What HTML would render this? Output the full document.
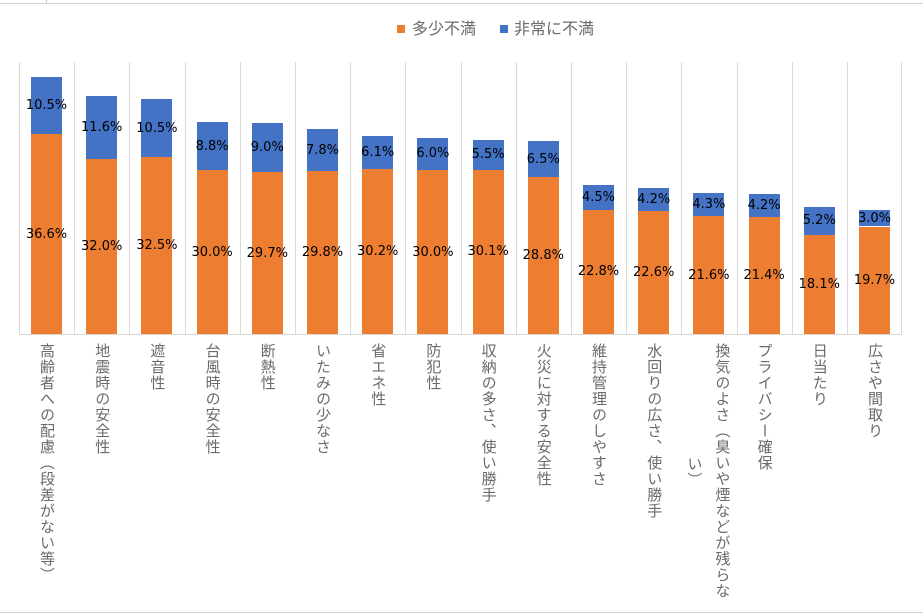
<!DOCTYPE html>
<html><head><meta charset="utf-8"><style>
*{margin:0;padding:0;box-sizing:border-box}
body{width:923px;height:615px;background:#fff;position:relative;overflow:hidden;font-family:"Liberation Sans","Noto Sans CJK JP",sans-serif}
.g{position:absolute;top:62px;height:273px;width:1px;background:#d9d9d9}
.c{position:absolute;top:0;width:55px;height:615px}
.s{position:absolute;left:12px;width:31px;display:flex;align-items:center;justify-content:center;font-family:"DejaVu Sans",sans-serif;font-size:13px;color:#000;white-space:nowrap}
.o{background:#ED7D31}.b{background:#4472C4}
.l{position:absolute;top:343px;writing-mode:vertical-rl;font-family:"Noto Sans CJK JP",sans-serif;font-size:15px;letter-spacing:1px;color:#6a6a6a;line-height:18px;white-space:nowrap}
</style></head><body>
<div style="position:absolute;left:0;top:3px;width:923px;height:1px;background:#d0d0d0"></div>
<div style="position:absolute;left:46px;top:0;width:1px;height:3px;background:#d0d0d0"></div>
<div style="position:absolute;left:0;top:612px;width:923px;height:1px;background:#d0d0d0"></div>
<div style="position:absolute;left:397px;top:25px;width:8px;height:8px;background:#ED7D31"></div>
<div style="position:absolute;left:412px;top:17px;font-size:16px;color:#6a6a6a;font-family:'Noto Sans CJK JP',sans-serif;line-height:20px">多少不満</div>
<div style="position:absolute;left:500px;top:25px;width:8px;height:8px;background:#4472C4"></div>
<div style="position:absolute;left:514px;top:17px;font-size:16px;color:#6a6a6a;font-family:'Noto Sans CJK JP',sans-serif;line-height:20px">非常に不満</div>
<div style="position:absolute;left:19px;top:334px;width:882px;height:1px;background:#d9d9d9"></div>
<div class="g" style="left:19px"></div><div class="g" style="left:74px"></div><div class="g" style="left:129px"></div><div class="g" style="left:185px"></div><div class="g" style="left:240px"></div><div class="g" style="left:295px"></div><div class="g" style="left:350px"></div><div class="g" style="left:405px"></div><div class="g" style="left:461px"></div><div class="g" style="left:516px"></div><div class="g" style="left:571px"></div><div class="g" style="left:626px"></div><div class="g" style="left:681px"></div><div class="g" style="left:737px"></div><div class="g" style="left:792px"></div><div class="g" style="left:847px"></div><div class="g" style="left:901px"></div>

<div class="c" style="left:19px"><div class="s b" style="top:77px;height:57.3px">10.5%</div><div class="s o" style="top:134.3px;height:199.7px">36.6%</div><div class="l" style="left:19px">高齢者への配慮（段差がない等）</div></div>
<div class="c" style="left:74.2px"><div class="s b" style="top:96.1px;height:63.3px">11.6%</div><div class="s o" style="top:159.4px;height:174.6px">32.0%</div><div class="l" style="left:19px">地震時の安全性</div></div>
<div class="c" style="left:129.4px"><div class="s b" style="top:99.4px;height:57.3px">10.5%</div><div class="s o" style="top:156.7px;height:177.3px">32.5%</div><div class="l" style="left:19px">遮音性</div></div>
<div class="c" style="left:184.6px"><div class="s b" style="top:122.3px;height:48px">8.8%</div><div class="s o" style="top:170.3px;height:163.7px">30.0%</div><div class="l" style="left:19px">台風時の安全性</div></div>
<div class="c" style="left:239.8px"><div class="s b" style="top:122.9px;height:49.1px">9.0%</div><div class="s o" style="top:172px;height:162px">29.7%</div><div class="l" style="left:19px">断熱性</div></div>
<div class="c" style="left:295px"><div class="s b" style="top:128.8px;height:42.6px">7.8%</div><div class="s o" style="top:171.4px;height:162.6px">29.8%</div><div class="l" style="left:19px">いたみの少なさ</div></div>
<div class="c" style="left:350.2px"><div class="s b" style="top:135.9px;height:33.3px">6.1%</div><div class="s o" style="top:169.2px;height:164.8px">30.2%</div><div class="l" style="left:19px">省エネ性</div></div>
<div class="c" style="left:405.4px"><div class="s b" style="top:137.6px;height:32.7px">6.0%</div><div class="s o" style="top:170.3px;height:163.7px">30.0%</div><div class="l" style="left:19px">防犯性</div></div>
<div class="c" style="left:460.6px"><div class="s b" style="top:139.8px;height:30px">5.5%</div><div class="s o" style="top:169.8px;height:164.2px">30.1%</div><div class="l" style="left:19px">収納の多さ、使い勝手</div></div>
<div class="c" style="left:515.8px"><div class="s b" style="top:141.4px;height:35.5px">6.5%</div><div class="s o" style="top:176.9px;height:157.1px">28.8%</div><div class="l" style="left:19px">火災に対する安全性</div></div>
<div class="c" style="left:571px"><div class="s b" style="top:185px;height:24.6px">4.5%</div><div class="s o" style="top:209.6px;height:124.4px">22.8%</div><div class="l" style="left:19px">維持管理のしやすさ</div></div>
<div class="c" style="left:626.2px"><div class="s b" style="top:187.8px;height:22.9px">4.2%</div><div class="s o" style="top:210.7px;height:123.3px">22.6%</div><div class="l" style="left:19px">水回りの広さ、使い勝手</div></div>
<div class="c" style="left:681.4px"><div class="s b" style="top:192.7px;height:23.5px">4.3%</div><div class="s o" style="top:216.2px;height:117.8px">21.6%</div><div class="l" style="left:32px">換気のよさ（臭いや煙などが残らな</div><div class="l" style="left:4px;top:456px">い）</div></div>
<div class="c" style="left:736.6px"><div class="s b" style="top:194.3px;height:22.9px">4.2%</div><div class="s o" style="top:217.2px;height:116.8px">21.4%</div><div class="l" style="left:19px">プライバシー確保</div></div>
<div class="c" style="left:791.8px"><div class="s b" style="top:206.8px;height:28.4px">5.2%</div><div class="s o" style="top:235.2px;height:98.8px">18.1%</div><div class="l" style="left:19px">日当たり</div></div>
<div class="c" style="left:847px"><div class="s b" style="top:210.1px;height:16.4px">3.0%</div><div class="s o" style="top:226.5px;height:107.5px">19.7%</div><div class="l" style="left:19px">広さや間取り</div></div>
</body></html>
